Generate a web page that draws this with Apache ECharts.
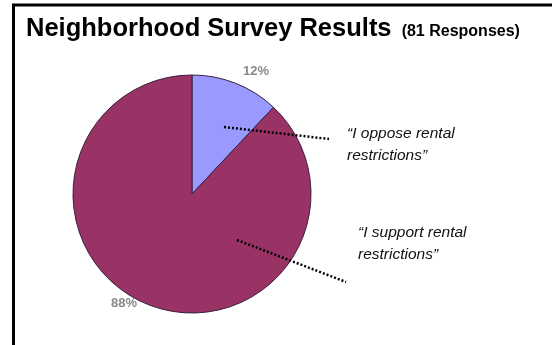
<!DOCTYPE html>
<html>
<head>
<meta charset="utf-8">
<script src="https://cdn.jsdelivr.net/npm/echarts@6/dist/echarts.min.js"></script>
<style>
  html, body { margin: 0; padding: 0; background: #fff; }
  #chart_survey { width: 552px; height: 345px; }
</style>
</head>
<body>
<div id="chart_survey"></div>
<script>
// survey answers
var categories = ['I oppose rental restrictions', 'I support rental restrictions'];
var values = [12, 88];
var colors = ['#9999ff', '#993366'];
var quotes = ['\u201cI oppose rental\nrestrictions\u201d', '\u201cI support rental\nrestrictions\u201d'];

var chart_survey = echarts.init(document.getElementById('chart_survey'));

var chart_survey_option = {
    backgroundColor: '#fff',
    animation: false,
    color: colors,
    title: {
        text: 'Neighborhood Survey Results {sub|(81 Responses)}',
        left: 21,
        top: 11,
        textStyle: {
            color: '#000',
            fontFamily: 'Liberation Sans, Arial',
            fontWeight: 'bold',
            fontSize: 25.5,
            rich: {
                sub: { fontFamily: 'Liberation Sans, Arial', fontWeight: 'bold', fontSize: 16, color: '#000', padding: [5, 0, 0, 3] }
            }
        }
    },
    graphic: [
        // frame
        { type: 'line', z: 100, shape: { x1: 13.5, y1: 4, x2: 13.5, y2: 345 }, style: { stroke: '#000', lineWidth: 3 } },
        { type: 'line', z: 100, shape: { x1: 12, y1: 5, x2: 552, y2: 5 }, style: { stroke: '#000', lineWidth: 3 } },
        // callouts
        { type: 'line', z: 100, shape: { x1: 224, y1: 127, x2: 329, y2: 139 }, style: { stroke: '#000', lineWidth: 2.5, lineDash: [2, 2] } },
        { type: 'line', z: 100, shape: { x1: 237, y1: 240, x2: 346, y2: 282 }, style: { stroke: '#000', lineWidth: 2.5, lineDash: [2, 2] } },
        { type: 'text', z: 100, left: 347, top: 123, style: { text: quotes[0], font: 'italic 15.5px "Liberation Sans", Arial', fill: '#111', lineHeight: 22 } },
        { type: 'text', z: 100, left: 358, top: 222, style: { text: quotes[1], font: 'italic 15.5px "Liberation Sans", Arial', fill: '#111', lineHeight: 22 } }
    ],
    series: [
        {
            name: 'Survey',
            type: 'pie',
            center: [192, 194],
            radius: 119,
            startAngle: 90,
            clockwise: true,
            silent: true,
            itemStyle: { borderColor: '#3a2040', borderWidth: 1 },
            label: {
                show: true,
                position: 'outside',
                formatter: '{c}%',
                color: '#8a8a8a',
                fontFamily: 'Liberation Sans, Arial',
                fontWeight: 'bold',
                fontSize: 13
            },
            labelLine: { show: false },
            labelLayout: function (params) {
                if (params.dataIndex === 0) {
                    return { x: 256, y: 71, align: 'center', verticalAlign: 'middle' };
                }
                return { x: 124, y: 303, align: 'center', verticalAlign: 'middle' };
            },
            data: categories.map(function (name, i) {
                return { name: name, value: values[i] };
            })
        }
    ]
};
chart_survey.setOption(chart_survey_option);
</script>
</body>
</html>
